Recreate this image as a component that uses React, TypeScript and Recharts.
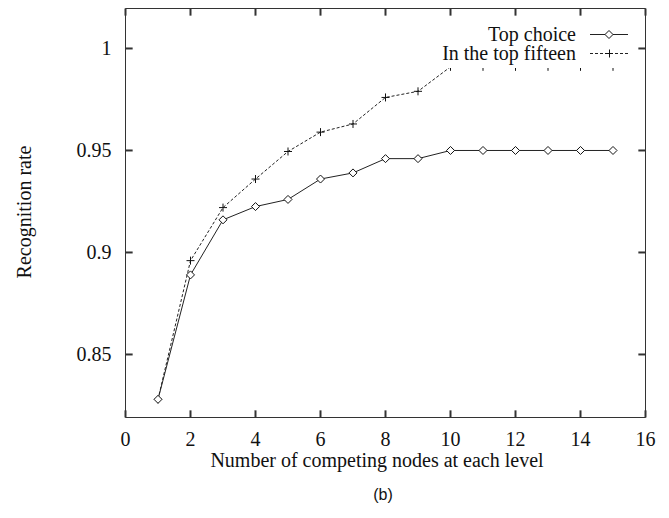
import { Line, LineChart, ReferenceLine, XAxis, YAxis } from 'recharts'

const nodes = [1, 2, 3, 4, 5, 6, 7, 8, 9, 10, 11, 12, 13, 14, 15]
const topChoice = [0.828, 0.889, 0.916, 0.9225, 0.926, 0.936, 0.939, 0.946, 0.946, 0.95, 0.95, 0.95, 0.95, 0.95, 0.95]
const topFifteen = [0.828, 0.896, 0.922, 0.936, 0.9495, 0.959, 0.963, 0.976, 0.979, 0.991, 0.991, 0.991, 0.991, 0.991, 0.991]
const xTicks = [0, 2, 4, 6, 8, 10, 12, 14, 16]
const yTicks = [0.85, 0.9, 0.95, 1]

const data = nodes.map((n, i) => ({ n, top: topChoice[i], fifteen: topFifteen[i] }))

const serif = 'Liberation Serif'
const xDomain = [0, 16]
const yDomain = [0.8191, 1.0196]
const tickGray = '#333'
// inward tick length (~7px) expressed in data units
const xTickLen = 0.0035
const yTickLen = 0.22

const BottomTick = (props: any) => {
  const { x, y, payload } = props
  return (
    <text x={x} y={y + 14} textAnchor="middle" fontFamily={serif} fontSize={20} fill="#111">
      {payload.value}
    </text>
  )
}

const LeftTick = (props: any) => {
  const { x, y, payload } = props
  return (
    <text x={x} y={y + 7} textAnchor="end" fontFamily={serif} fontSize={20} fill="#111">
      {String(payload.value)}
    </text>
  )
}

const Diamond = (props: any) => {
  const { cx, cy, index } = props
  if (cx == null || cy == null) return <g key={index} />
  return (
    <polygon
      key={index}
      points={`${cx},${cy - 4} ${cx + 4},${cy} ${cx},${cy + 4} ${cx - 4},${cy}`}
      fill="#fff"
      stroke="#111"
      strokeWidth={1}
    />
  )
}

const Plus = (props: any) => {
  const { cx, cy, index } = props
  if (cx == null || cy == null) return <g key={index} />
  return (
    <path key={index} d={`M${cx - 4},${cy}H${cx + 4}M${cx},${cy - 4}V${cy + 4}`} stroke="#111" strokeWidth={1} />
  )
}

export default function App() {
  return (
    <div style={{ position: 'absolute', left: 0, top: 0, width: 669, height: 518, background: '#fff' }}>
      <LineChart width={669} height={518} data={data} margin={{ top: 7.5, right: 22.5, left: 45.5, bottom: 60.5 }}>
        <XAxis
          dataKey="n"
          type="number"
          domain={xDomain}
          ticks={xTicks}
          height={40}
          stroke="#333"
          tickLine={false}
          tickSize={0}
          tickMargin={14}
          tick={BottomTick}
          allowDataOverflow
        />
        <XAxis
          xAxisId="top"
          dataKey="n"
          orientation="top"
          type="number"
          domain={xDomain}
          ticks={xTicks}
          height={1}
          stroke="#333"
          tickLine={false}
          tick={false}
          allowDataOverflow
        />
        <YAxis
          type="number"
          domain={yDomain}
          ticks={yTicks}
          width={80}
          stroke="#333"
          tickLine={false}
          tickSize={0}
          tickMargin={14}
          tick={LeftTick}
          allowDataOverflow
        />
        <YAxis
          yAxisId="right"
          orientation="right"
          type="number"
          domain={yDomain}
          ticks={yTicks}
          width={1}
          stroke="#333"
          tickLine={false}
          tick={false}
          allowDataOverflow
        />
        {/* gnuplot-style inward ticks on all four sides */}
        {xTicks.map((t) => (
          <ReferenceLine
            key={`b${t}`}
            segment={[{ x: t, y: yDomain[0] }, { x: t, y: yDomain[0] + xTickLen }]}
            stroke={tickGray}
            strokeWidth={2}
            ifOverflow="visible"
          />
        ))}
        {xTicks.map((t) => (
          <ReferenceLine
            key={`t${t}`}
            segment={[{ x: t, y: yDomain[1] }, { x: t, y: yDomain[1] - xTickLen }]}
            stroke={tickGray}
            strokeWidth={2}
            ifOverflow="visible"
          />
        ))}
        {yTicks.map((t) => (
          <ReferenceLine
            key={`l${t}`}
            segment={[{ x: xDomain[0], y: t }, { x: xDomain[0] + yTickLen, y: t }]}
            stroke={tickGray}
            strokeWidth={2}
            ifOverflow="visible"
          />
        ))}
        {yTicks.map((t) => (
          <ReferenceLine
            key={`r${t}`}
            segment={[{ x: xDomain[1], y: t }, { x: xDomain[1] - yTickLen, y: t }]}
            stroke={tickGray}
            strokeWidth={2}
            ifOverflow="visible"
          />
        ))}
        {/* invisible series so the mirrored top/right axes get drawn */}
        <Line
          xAxisId="top"
          yAxisId="right"
          dataKey="top"
          stroke="none"
          dot={false}
          activeDot={false}
          legendType="none"
          isAnimationActive={false}
        />
        <Line
          dataKey="fifteen"
          type="linear"
          stroke="#222"
          strokeWidth={1}
          strokeDasharray="3 2"
          dot={Plus}
          activeDot={false}
          isAnimationActive={false}
        />
        <Line
          dataKey="top"
          type="linear"
          stroke="#222"
          strokeWidth={1}
          dot={Diamond}
          activeDot={false}
          isAnimationActive={false}
        />
      </LineChart>

      {/* key box, opaque like gnuplot's */}
      <svg style={{ position: 'absolute', left: 436, top: 22 }} width={198} height={46}>
        <rect x={0} y={0} width={198} height={46} fill="#fff" />
        <text x={140} y={19} textAnchor="end" fontFamily={serif} fontSize={20} fill="#111">
          Top choice
        </text>
        <line x1={154} x2={192} y1={12.5} y2={12.5} stroke="#222" />
        <polygon points="173,8.5 177,12.5 173,16.5 169,12.5" fill="#fff" stroke="#111" />
        <text x={140} y={38} textAnchor="end" fontFamily={serif} fontSize={20} fill="#111">
          In the top fifteen
        </text>
        <line x1={154} x2={192} y1={31.5} y2={31.5} stroke="#222" strokeDasharray="3 2" />
        <path d="M169,31.5H177M173.5,27.5V35.5" stroke="#111" />
      </svg>

      <div
        style={{
          position: 'absolute',
          left: 24 - 100,
          top: 212 - 12,
          width: 200,
          height: 24,
          lineHeight: '24px',
          textAlign: 'center',
          transform: 'rotate(-90deg)',
          fontFamily: serif,
          fontSize: 20,
          color: '#111',
        }}
      >
        Recognition rate
      </div>
      <div
        style={{
          position: 'absolute',
          left: 117,
          top: 448,
          width: 520,
          lineHeight: '24px',
          textAlign: 'center',
          fontFamily: serif,
          fontSize: 20,
          color: '#111',
        }}
      >
        Number of competing nodes at each level
      </div>
      <div
        style={{
          position: 'absolute',
          left: 283,
          top: 484,
          width: 200,
          lineHeight: '22px',
          textAlign: 'center',
          fontFamily: 'Liberation Sans',
          fontSize: 16,
          color: '#111',
        }}
      >
        (b)
      </div>
    </div>
  )
}
